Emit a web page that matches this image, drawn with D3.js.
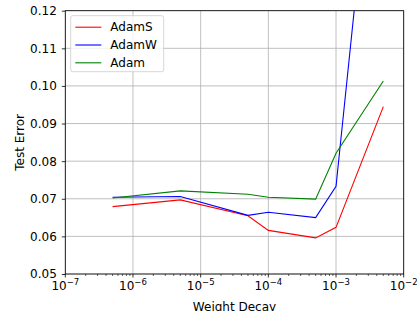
<!DOCTYPE html>
<html>
<head>
<meta charset="utf-8">
<script src="https://cdn.jsdelivr.net/npm/d3@7"></script>
<style>
  body { margin: 0; background: #fff; }
  text { font-family: "DejaVu Sans", sans-serif; fill: #000; }
</style>
</head>
<body>
<div id="chart"></div>
<script>
// weight decay values and test errors
var decays = [5e-7, 5e-6, 5e-5, 1e-4, 5e-4, 1e-3, 5e-3];
var adamS = [0.0679, 0.0697, 0.0655, 0.0616, 0.0596, 0.0624, 0.0945];
var adamW = [0.0704, 0.0706, 0.0656, 0.0664, 0.0650, 0.0733, 0.195];
var adam  = [0.0702, 0.0721, 0.0712, 0.0704, 0.0699, 0.0821, 0.1013];
var names = ["AdamS", "AdamW", "Adam"];
var colors = ["#ff0000", "#0000ff", "#008000"];
var yTicks = [0.05, 0.06, 0.07, 0.08, 0.09, 0.10, 0.11, 0.12];
var xTicks = [1e-7, 1e-6, 1e-5, 1e-4, 1e-3, 1e-2];

var width = 417, height = 311;
var margin = { top: 10.7, right: 13.3, bottom: 37, left: 65.3 };
var fs = "12px";

var svg = d3.select("#chart")
    .append("svg")
    .attr("width", width)
    .attr("height", height);

var x = d3.scaleLog()
    .domain([1e-7, 1e-2])
    .range([margin.left, width - margin.right]);

var y = d3.scaleLinear()
    .domain([0.05, 0.12])
    .range([height - margin.bottom, margin.top]);

var g = svg.append("g");

// grid
g.selectAll(".gx").data(xTicks).enter().append("line")
    .attr("x1", d => x(d)).attr("x2", d => x(d))
    .attr("y1", y(0.05)).attr("y2", y(0.12))
    .attr("stroke", "#b0b0b0").attr("stroke-width", 0.8);
g.selectAll(".gy").data(yTicks).enter().append("line")
    .attr("x1", x(1e-7)).attr("x2", x(1e-2))
    .attr("y1", d => y(d)).attr("y2", d => y(d))
    .attr("stroke", "#b0b0b0").attr("stroke-width", 0.8);

// series
svg.append("clipPath").attr("id", "clip")
    .append("rect")
    .attr("x", x(1e-7)).attr("y", y(0.12))
    .attr("width", x(1e-2) - x(1e-7))
    .attr("height", y(0.05) - y(0.12));

var line = d3.line()
    .x((d, i) => x(decays[i]))
    .y(d => y(d));

var series = [adamS, adamW, adam];
g.append("g").attr("clip-path", "url(#clip)")
    .selectAll("path")
    .data(series)
    .enter().append("path")
    .attr("d", line)
    .attr("fill", "none")
    .attr("stroke", (d, i) => colors[i])
    .attr("stroke-width", 1.1);

// y axis
var yAxis = d3.axisLeft(y)
    .tickValues(yTicks)
    .tickSize(3.5)
    .tickPadding(5)
    .tickFormat(d3.format(".2f"));
svg.append("g")
    .attr("transform", "translate(" + margin.left + ",0)")
    .call(yAxis)
    .attr("font-family", null)
    .attr("font-size", null)
    .call(a => a.select(".domain").remove())
    .call(a => a.selectAll("text").style("font-size", fs))
    .call(a => a.selectAll("line").attr("stroke-width", 0.8));

// x axis minor ticks
var minor = [];
for (var e = -7; e < -2; e++) {
    for (var m = 2; m <= 9; m++) minor.push(m * Math.pow(10, e));
}
var xb = y(0.05);
svg.selectAll(".minor").data(minor).enter().append("line")
    .attr("x1", d => x(d)).attr("x2", d => x(d))
    .attr("y1", xb).attr("y2", xb + 2)
    .attr("stroke", "#000").attr("stroke-width", 0.6);
svg.selectAll(".major").data(xTicks).enter().append("line")
    .attr("x1", d => x(d)).attr("x2", d => x(d))
    .attr("y1", xb).attr("y2", xb + 3.5)
    .attr("stroke", "#000").attr("stroke-width", 0.8);

var xl = svg.selectAll(".xl").data(xTicks).enter().append("text")
    .attr("x", d => x(d))
    .attr("y", xb + 16)
    .attr("text-anchor", "middle")
    .style("font-size", fs);
xl.append("tspan").text("10");
xl.append("tspan")
    .attr("dy", -5)
    .style("font-size", "8.5px")
    .text(d => "\u2212" + Math.round(-Math.log10(d)));

// frame
svg.append("rect")
    .attr("x", x(1e-7)).attr("y", y(0.12))
    .attr("width", x(1e-2) - x(1e-7))
    .attr("height", y(0.05) - y(0.12))
    .attr("fill", "none")
    .attr("stroke", "#000")
    .attr("stroke-width", 0.8);

// axis labels
svg.append("text")
    .attr("x", (x(1e-7) + x(1e-2)) / 2)
    .attr("y", 311)
    .attr("text-anchor", "middle")
    .style("font-size", fs)
    .text("Weight Decay");
svg.append("text")
    .attr("transform", "translate(19.3," + (y(0.05) + y(0.12)) / 2 + ") rotate(-90)")
    .attr("text-anchor", "middle")
    .attr("dy", "0.35em")
    .style("font-size", fs)
    .text("Test Error");

// legend
var lg = svg.append("g").attr("transform", "translate(70.7,15.7)");
lg.append("rect")
    .attr("width", 93).attr("height", 56)
    .attr("rx", 2)
    .attr("fill", "#fff").attr("fill-opacity", 0.8)
    .attr("stroke", "#cccccc").attr("stroke-width", 0.8);
names.forEach(function (n, i) {
    var yy = 11.5 + i * 17.8;
    lg.append("line")
        .attr("x1", 4.6).attr("x2", 30.6)
        .attr("y1", yy).attr("y2", yy)
        .attr("stroke", colors[i]).attr("stroke-width", 1.1);
    lg.append("text")
        .attr("x", 39.6).attr("y", yy + 4.3)
        .style("font-size", fs)
        .text(n);
});
</script>
</body>
</html>
